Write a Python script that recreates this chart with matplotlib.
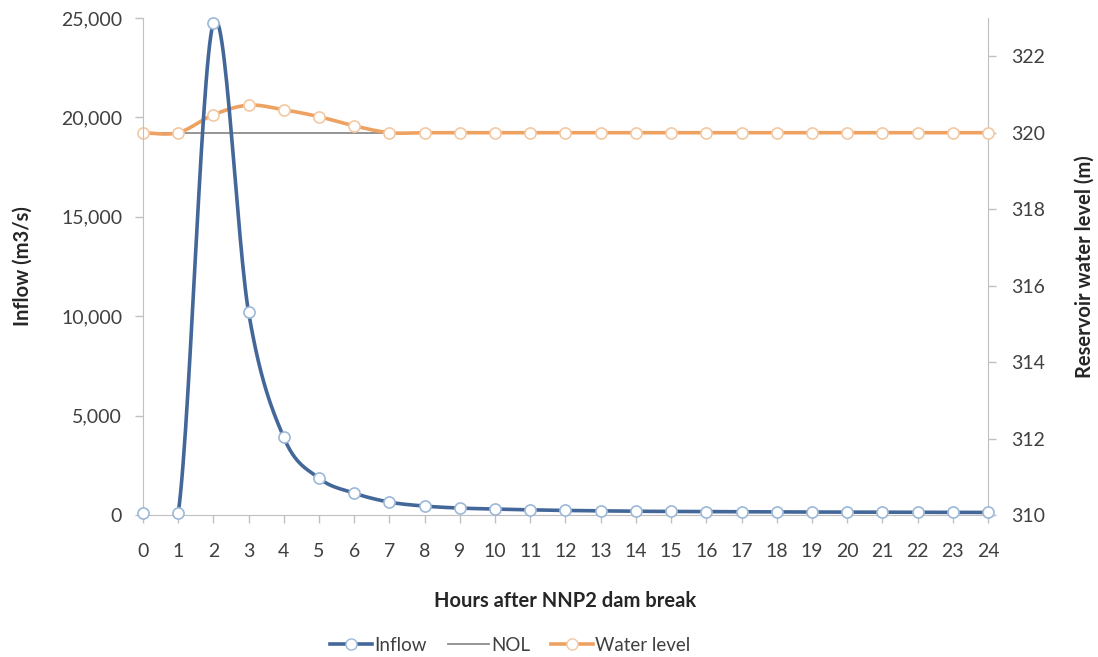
import numpy as np
import matplotlib
matplotlib.use("Agg")
import matplotlib.pyplot as plt
from matplotlib.lines import Line2D
from matplotlib.ticker import FuncFormatter

plt.rcParams['font.family'] = ['Lato', 'DejaVu Sans']

hours = list(range(25))
inflow = [80, 80, 24750, 10200, 3900, 1850, 1100, 650, 450, 350, 300, 260, 230,
          210, 190, 180, 170, 160, 155, 150, 145, 140, 135, 130, 130]
water_level = [320.0, 320.0, 320.47, 320.72, 320.6, 320.42, 320.18, 320.0, 320.0,
               320.0, 320.0, 320.0, 320.0, 320.0, 320.0, 320.0, 320.0, 320.0,
               320.0, 320.0, 320.0, 320.0, 320.0, 320.0, 320.0]
nol = [320.0] * 25

BLUE = "#44679a"
ORANGE = "#eea262"
GREY = "#8c8c8c"
TEXT = "#404040"
AXIS = "#c0c0c0"


def smooth(x, y, n=30):
    # Excel-style smoothed line: cubic Bezier segments through the points
    x = np.asarray(x, float)
    y = np.asarray(y, float)
    xs, ys = [], []
    t = np.linspace(0, 1, n)
    for i in range(len(x) - 1):
        i0 = max(i - 1, 0)
        i3 = min(i + 2, len(x) - 1)
        p0 = np.array([x[i], y[i]])
        p3 = np.array([x[i + 1], y[i + 1]])
        c1 = p0 + (p3 - np.array([x[i0], y[i0]])) / 6
        c2 = p3 - (np.array([x[i3], y[i3]]) - p0) / 6
        b = ((1 - t) ** 3)[:, None] * p0 + (3 * (1 - t) ** 2 * t)[:, None] * c1 \
            + (3 * (1 - t) * t ** 2)[:, None] * c2 + (t ** 3)[:, None] * p3
        xs.extend(b[:, 0])
        ys.extend(b[:, 1])
    return np.array(xs), np.array(ys)


fig = plt.figure(figsize=(10.98, 6.57), dpi=100)
ax = fig.add_axes([0.1302, 0.2161, 0.7696, 0.7565])
ax2 = ax.twinx()

sx, sy = smooth(hours, inflow)
ax.plot(sx, sy, color=BLUE, lw=2.6, zorder=3)
ax.plot(hours, inflow, ls="none", marker="o", ms=8, mfc="white",
        mec="#9db8d8", mew=1.2, zorder=4, clip_on=False)

ax2.plot(hours, nol, color=GREY, lw=1.3, zorder=2)
wx, wy = smooth(hours, water_level)
ax2.plot(wx, wy, color=ORANGE, lw=2.6, zorder=3)
ax2.plot(hours, water_level, ls="none", marker="o", ms=8, mfc="white",
         mec="#f3c9a3", mew=1.2, zorder=4, clip_on=False)

ax.set_zorder(ax2.get_zorder() + 1)
ax.patch.set_visible(False)

ax.set_xlim(0, 24)
ax.set_ylim(0, 25000)
ax2.set_ylim(310, 323)
ax.set_xticks(hours)
ax.set_yticks([0, 5000, 10000, 15000, 20000, 25000])
ax2.set_yticks([310, 312, 314, 316, 318, 320, 322])
ax.yaxis.set_major_formatter(FuncFormatter(lambda v, p: f"{int(v):,}"))

for a in (ax, ax2):
    for s in a.spines.values():
        s.set_visible(False)
    a.tick_params(colors=AXIS, labelcolor=TEXT, labelsize=14, length=6, width=1)
ax.spines['left'].set_visible(True)
ax.spines['left'].set_color(AXIS)
ax.spines['bottom'].set_visible(True)
ax.spines['bottom'].set_color(AXIS)
ax2.spines['right'].set_visible(True)
ax2.spines['right'].set_color(AXIS)
ax.tick_params(axis='x', pad=14)
ax.tick_params(axis='y', pad=9)
ax2.tick_params(axis='y', pad=11)

ax.set_xlabel("Hours after NNP2 dam break", fontsize=14.5, fontweight="bold",
              color="#262626")
ax.set_ylabel("Inflow (m3/s)", fontsize=14.5, fontweight="bold", color="#262626")
ax2.set_ylabel("Reservoir water level (m)", fontsize=14.5, fontweight="bold",
               color="#262626")
ax.xaxis.set_label_coords(0.5, -0.152)
ax.yaxis.set_label_coords(-0.130, 0.5)
ax2.yaxis.set_label_coords(1.103, 0.5)

handles = [
    Line2D([], [], color=BLUE, lw=2.6, marker="o", ms=8, mfc="white", mec="#9db8d8"),
    Line2D([], [], color=GREY, lw=1.3),
    Line2D([], [], color=ORANGE, lw=2.6, marker="o", ms=8, mfc="white", mec="#f3c9a3"),
]
fig.legend(handles, ["Inflow", "NOL", "Water level"], loc="center",
           bbox_to_anchor=(0.465, 0.018), ncol=3, frameon=False, fontsize=13.5,
           handlelength=2.2, handletextpad=0.15, columnspacing=1.1,
           labelcolor=TEXT)

fig.savefig("out.png", dpi=100)
